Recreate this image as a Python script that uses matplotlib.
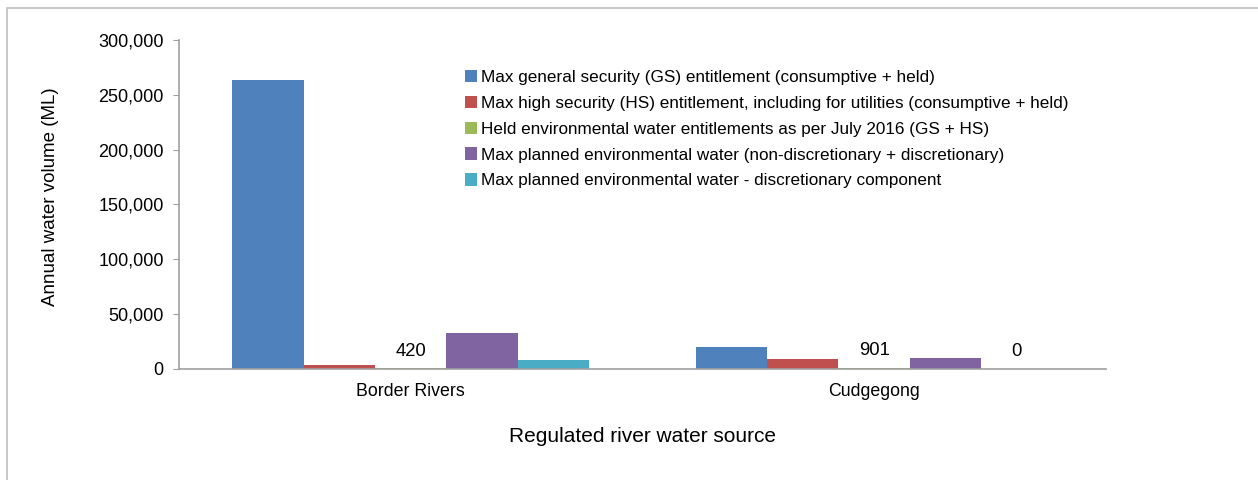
import numpy as np
import matplotlib.pyplot as plt
from matplotlib.patches import Rectangle
from matplotlib.ticker import FuncFormatter

plt.rcParams['font.family'] = ['Liberation Sans', 'DejaVu Sans']

sources = ["Border Rivers", "Cudgegong"]
series_names = [
    "Max general security (GS) entitlement (consumptive + held)",
    "Max high security (HS) entitlement, including for utilities (consumptive + held)",
    "Held environmental water entitlements as per July 2016 (GS + HS)",
    "Max planned environmental water (non-discretionary + discretionary)",
    "Max planned environmental water - discretionary component",
]
gs_entitlement = [263400, 19800]
hs_entitlement = [3100, 8600]
held_env = [420, 901]
planned_env = [32400, 10000]
planned_discretionary = [7950, 0]

series = [gs_entitlement, hs_entitlement, held_env, planned_env, planned_discretionary]
colors = ["#4F81BD", "#C0504D", "#9BBB59", "#8064A2", "#4BACC6"]
# which series get a value label
labelled = {2: [0, 1], 4: [1]}

fig = plt.figure(figsize=(12.58, 4.8), dpi=100)
ax = fig.add_axes([0.1423, 0.232, 0.7367, 0.6847])

x = np.arange(len(sources))
w = 0.154
for i, (vals, c) in enumerate(zip(series, colors)):
    pos = x + (i - 2) * w
    ax.bar(pos, vals, width=w, color=c, label=series_names[i])
    for j in labelled.get(i, []):
        ax.annotate(f"{vals[j]:,}", (pos[j], vals[j]), xytext=(0, 6),
                    textcoords="offset points", ha="center", va="bottom",
                    fontsize=13.3)

ax.set_xlim(-0.5, len(sources) - 0.5)
ax.set_ylim(0, 300000)
ax.set_yticks(np.arange(0, 300001, 50000))
ax.yaxis.set_major_formatter(FuncFormatter(lambda v, p: f"{int(v):,}"))
ax.set_xticks(x)
ax.set_xticklabels(sources)
ax.tick_params(axis="x", length=0, labelsize=12.8, pad=10)
ax.tick_params(axis="y", length=4, color="#A0A0A0", labelsize=13, pad=7)
for s in ["top", "right"]:
    ax.spines[s].set_visible(False)
for s in ["left", "bottom"]:
    ax.spines[s].set_color("#A0A0A0")
    ax.spines[s].set_linewidth(1.2)

ax.set_ylabel("Annual water volume (ML)", fontsize=13.5)
ax.yaxis.set_label_coords(-0.129, 0.524)
ax.set_xlabel("Regulated river water source", fontsize=15, labelpad=20)

ax.legend(loc="upper left", bbox_to_anchor=(0.3625, 0.872), bbox_transform=fig.transFigure,
          frameon=False, fontsize=12.3, handlelength=0.75, handleheight=0.75,
          handletextpad=0.2, labelspacing=0.62, borderpad=0)

fig.patches.append(Rectangle((0.0056, -0.1), 1.2, 1.083, transform=fig.transFigure,
                             fill=False, edgecolor="#BFBFBF", linewidth=1.2))

fig.savefig("out.png", dpi=100)
